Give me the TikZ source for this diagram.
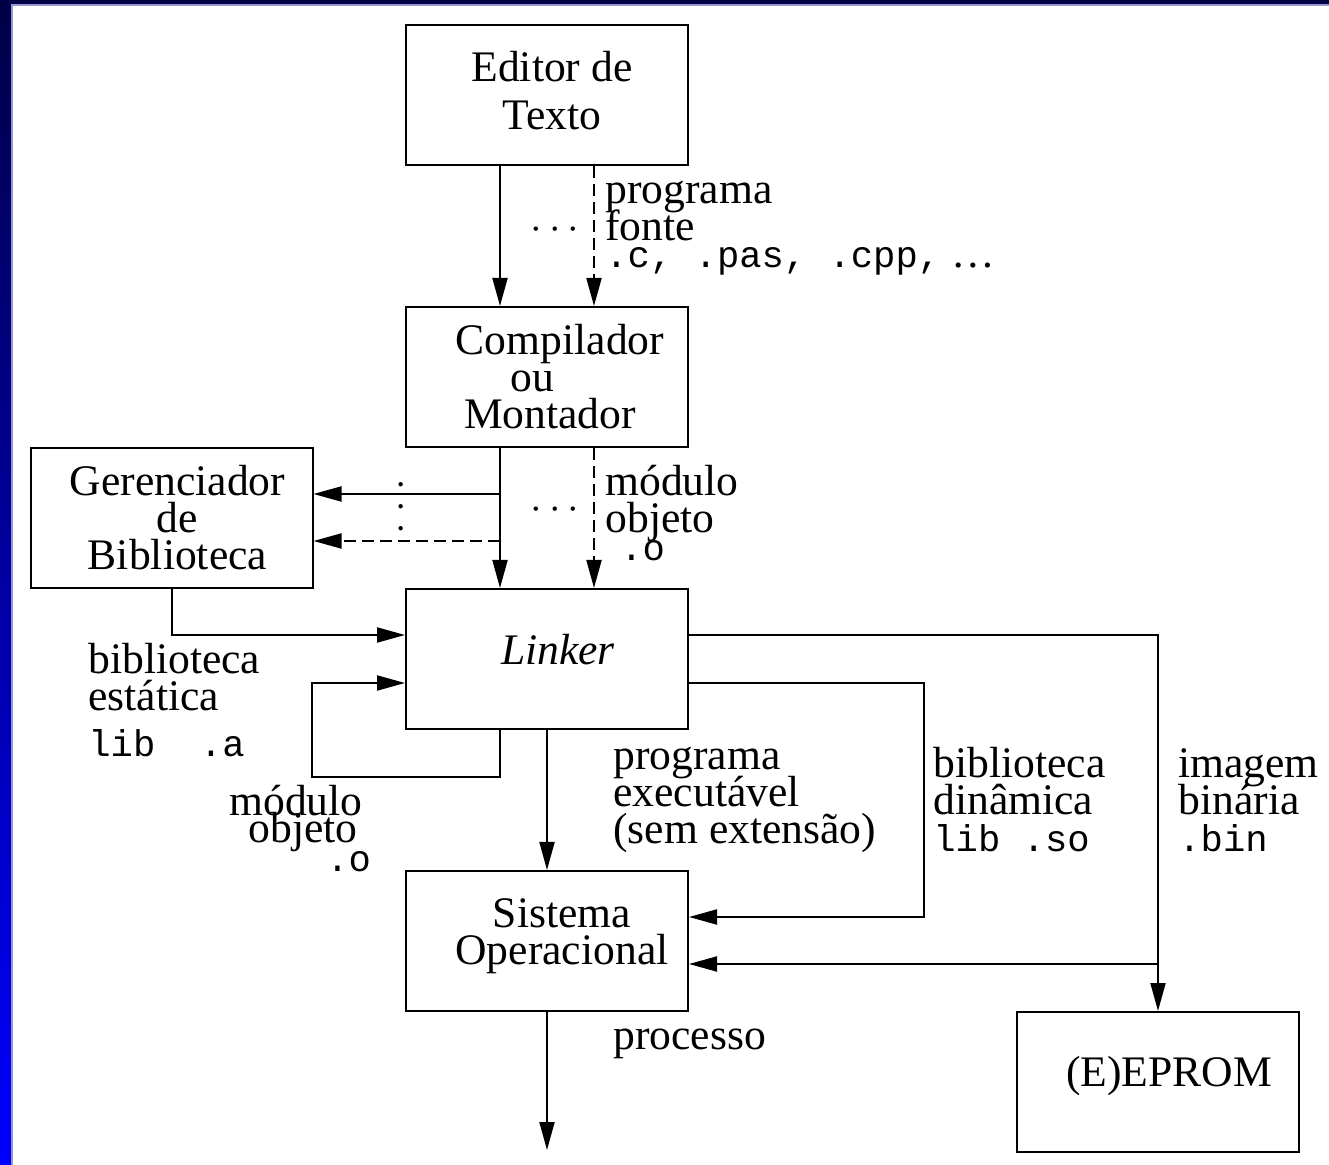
\documentclass[tikz,border=0pt]{standalone}
\usepackage{fontspec}
\setmainfont{Liberation Serif}
\setmonofont{Liberation Mono}
\usetikzlibrary{
    arrows.meta,
    positioning
}
\definecolor{framenavy}{RGB}{0,0,70}
\definecolor{frameblue}{RGB}{0,0,255}
\definecolor{frameline}{RGB}{150,150,210}
\newcommand{\filext}[1]{{\fontsize{18.6}{18.5}\selectfont\ttfamily #1}}
\newcommand{\figfont}{\fontsize{21.8}{18.5}\selectfont\lineskiplimit-50pt\relax}

\begin{document}
\begin{tikzpicture}[
    x=0.5pt, y=-0.5pt,
    every node/.style={font=\figfont},
    box/.style={rectangle, draw, line width=1pt, inner sep=0pt,
      minimum width=141pt, minimum height=70pt},
    boxtext/.style={align=center, inner sep=0pt},
    lbl/.style={align=left, anchor=base west, inner sep=0pt},
    ellip/.style={inner sep=0pt},
    arrow/.style={-{Triangle[length=14pt, width=7.5pt]}, line width=1pt},
    dashline/.style={dash pattern=on 6pt off 3pt}
]
\useasboundingbox (0,0) rectangle (1329,1165);
% frame
\shade[top color=framenavy, bottom color=frameblue] (0,0) rectangle (11,1165);
\fill[framenavy] (0,0) rectangle (1329,4);
\draw[frameline, line width=0.6pt] (12,1165) -- (12,5) -- (1329,5);

% boxes
\node[box, label={[boxtext, xshift=2.5pt, yshift=2pt]center:Editor de\\[5.5pt]Texto}]
  (editor) at (547,95) {};
\node[box, label={[boxtext]center:\hspace*{13pt}Compilador\\\hspace*{-15pt}ou\\\hspace*{3pt}Montador}]
  (compiler) at (547,377) {};
\node[box, label={[boxtext, xshift=3pt]center:Gerenciador\\de\\Biblioteca}]
  (manager) at (171.5,518) {};
\node[box, label={[boxtext, xshift=5.5pt, yshift=4.5pt]center:\textit{Linker}}]
  (linker) at (547,659) {};
\node[box, label={[boxtext, xshift=7.5pt, yshift=2.5pt]center:Sistema\\Operacional}]
  (sysop) at (547,941) {};
\node[box, label={[boxtext, xshift=5.5pt, yshift=3pt]center:(E)EPROM}]
  (eprom) at (1158,1082) {};

\coordinate (toManager) at (500,494);
\coordinate (toManagerDash) at (500,541);
\coordinate (toSysop) at (1158,964);
\coordinate (procEnd) at (547,1150);

% connectors
\draw[arrow] ([xshift=-23.5pt]editor.south) -- ([xshift=-23.5pt]compiler.north);
\draw[arrow, dashline] ([xshift=23.5pt]editor.south) -- ([xshift=23.5pt]compiler.north);
\draw[arrow] ([xshift=-23.5pt]compiler.south) -- ([xshift=-23.5pt]linker.north);
\draw[arrow, dashline] ([xshift=23.5pt]compiler.south) -- ([xshift=23.5pt]linker.north);
\draw[arrow] (toManager) -- ([yshift=12pt]manager.east);
\draw[arrow, dashline] (toManagerDash) -- ([yshift=-11.5pt]manager.east);
\draw[arrow] (manager.south) |- ([yshift=12pt]linker.west);
\draw[arrow] ([xshift=-23.5pt]linker.south) -- ++(0,47) -- ++(-188,0) |- ([yshift=-12pt]linker.west);
\draw[arrow] (linker.south) -- (sysop.north);
\draw[arrow] ([yshift=-12pt]linker.east) -- ++(235,0) |- ([yshift=12pt]sysop.east);
\draw[arrow] ([yshift=12pt]linker.east) -| (eprom.north);
\draw[arrow] (toSysop) -- ([yshift=-11.5pt]sysop.east);
\draw[arrow] (sysop.south) -- (procEnd);

% labels (anchored on the baseline of their last line)
\node[lbl] (srcLabel) at (605,268) {programa\\fonte\\[-5pt]\filext{.c, .pas, .cpp,}~\ldots};
\node[lbl] (objLabel) at (605,561) {módulo\\objeto\\[-4.5pt]\hspace*{7.5pt}\filext{.o}};
\node[lbl] (staticLabel) at (88,757) {biblioteca\\estática\\[4.5pt]\filext{lib\ \ .a}};
\node[lbl] (exeLabel) at (613,843) {programa\\executável\\(sem extensão)};
\node[lbl] (dynLabel) at (933,852) {biblioteca\\dinâmica\\\filext{lib .so}};
\node[lbl] (binLabel) at (1178,852) {imagem\\binária\\\filext{.bin}};
\node[lbl] (loopLabel) at (229,871) {módulo\\[-5pt]\hspace*{9.5pt}objeto\\[-4pt]\hspace*{48.5pt}\filext{.o}};
\node[lbl] (procLabel) at (613,1049) {processo};

\node[ellip] (srcDots) at (555,230) {$\cdots$};
\node[ellip] (objDots) at (555,510) {$\cdots$};
\node[ellip, rotate=90] (libDots) at (402,507) {${\cdot}\mkern4.5mu{\cdot}\mkern4.5mu{\cdot}$};
\end{tikzpicture}
\end{document}
